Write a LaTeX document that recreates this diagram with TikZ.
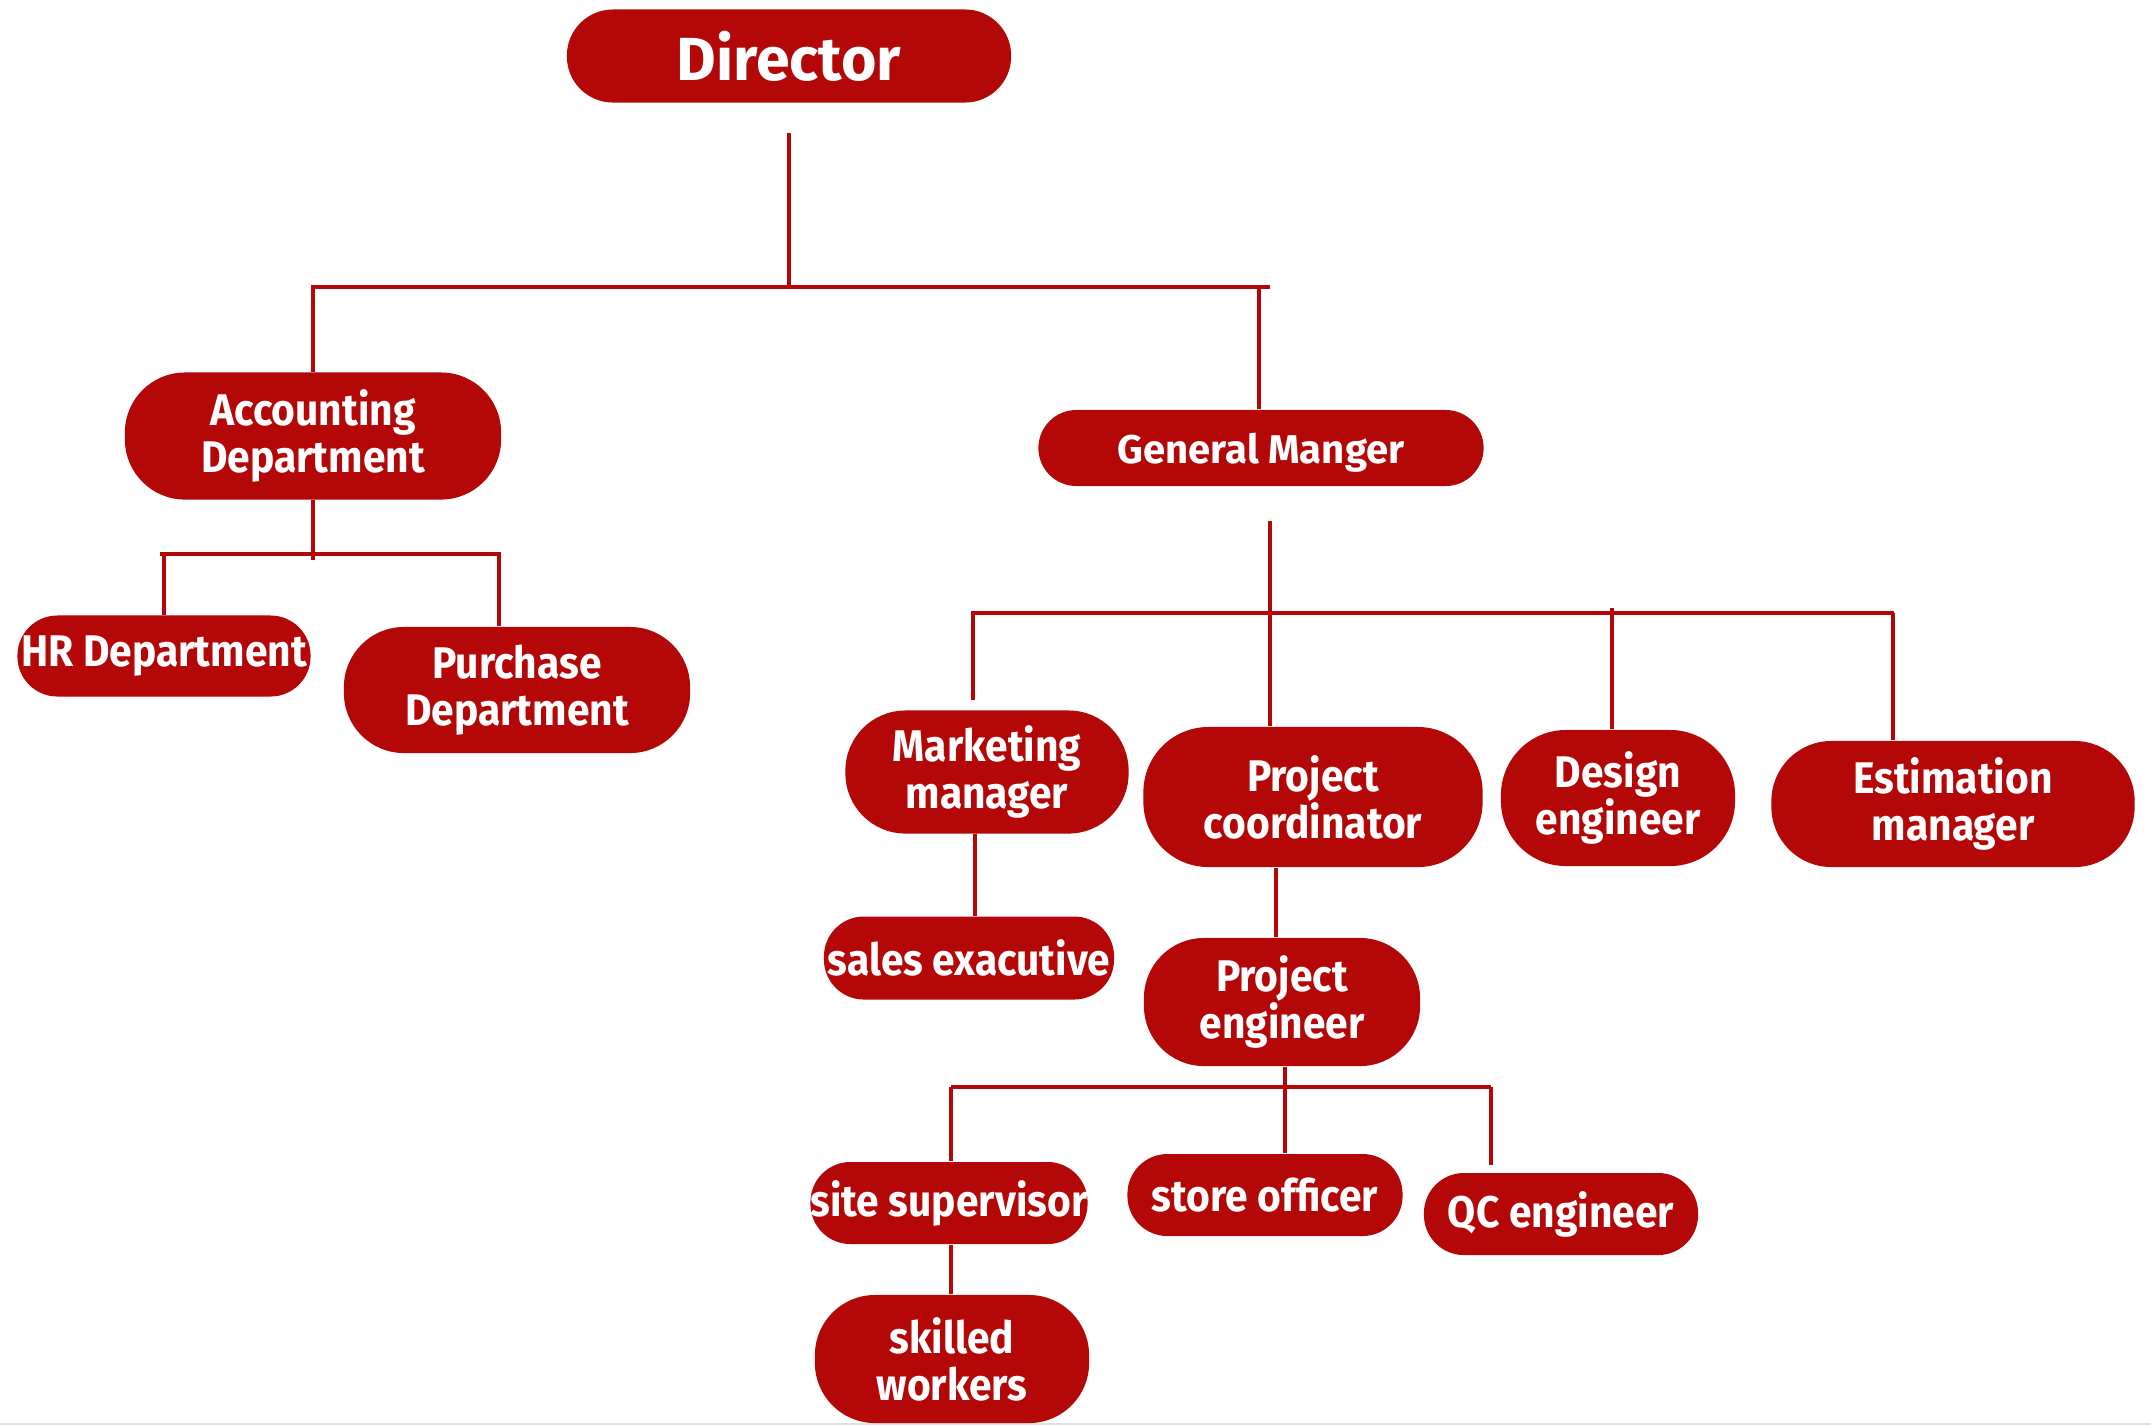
\documentclass[tikz,border=0pt]{standalone}
\usepackage{fontspec}
\setmainfont{Fira Sans}
\newfontfamily\widefont{Fira Sans Bold}
\newfontfamily\narrowfont{Fira Sans Bold}[FakeStretch=0.92]
\definecolor{orgred}{RGB}{180,7,7}
\tikzset{
    unit/.style={fill=orgred, text=white, rounded corners=0.4cm,
        align=center, inner sep=0pt, font=\narrowfont\fontsize{12.6}{13.4}\selectfont},
    tall/.style={unit, rounded corners=0.6cm},
    link/.style={draw=orgred, line width=1.2pt},
}
\begin{document}
\begin{tikzpicture}[x=0.01cm, y=-0.01cm]
    \useasboundingbox (0,0) rectangle (2151,1426);
    \draw[black!12, line width=0.8pt] (0,1424) -- (2151,1424);

    % top levels
    \node[unit, minimum width=4.44cm, minimum height=0.93cm, rounded corners=0.46cm,
        font=\widefont\fontsize{17.3}{19}\selectfont] (dir) at (789,56) {Director};
    \node[tall, minimum width=3.76cm, minimum height=1.27cm] (acc) at (313,436) {Accounting\\Department};
    \node[unit, minimum width=4.45cm, minimum height=0.76cm, rounded corners=0.38cm,
        font=\widefont\fontsize{11.4}{13}\selectfont, text depth=0pt] (gm) at (1261,448) {General Manger};

    % accounting side
    \node[unit, minimum width=2.93cm, minimum height=0.81cm] (hr) at (164,656) {HR Department};
    \node[tall, minimum width=3.46cm, minimum height=1.26cm] (pur) at (517,690) {Purchase\\Department};

    % general manager side
    \node[tall, minimum width=2.83cm, minimum height=1.23cm] (mkt) at (987,772) {Marketing\\manager};
    \node[tall, minimum width=3.39cm, minimum height=1.40cm, rounded corners=0.65cm] (pc) at (1313,797) {Project\\coordinator};
    \node[tall, minimum width=2.34cm, minimum height=1.36cm, rounded corners=0.65cm] (des) at (1618,798) {Design\\engineer};
    \node[tall, minimum width=3.63cm, minimum height=1.26cm] (est) at (1953,804) {Estimation\\manager};
    \node[unit, minimum width=2.90cm, minimum height=0.83cm] (sal) at (969,958) {sales exacutive};
    \node[tall, minimum width=2.76cm, minimum height=1.28cm] (pe) at (1282,1002) {Project\\engineer};

    % site level
    \node[unit, minimum width=2.77cm, minimum height=0.82cm] (sit) at (949,1203) {site supervisor};
    \node[unit, minimum width=2.75cm, minimum height=0.82cm] (sto) at (1265,1195) {store officer};
    \node[unit, minimum width=2.74cm, minimum height=0.82cm] (qc) at (1561,1214) {QC engineer};
    \node[tall, minimum width=2.74cm, minimum height=1.28cm] (skl) at (952,1359) {skilled\\workers};

    \coordinate (busA) at (0,287);
    \coordinate (busB) at (0,554);
    \coordinate (busC) at (0,613);
    \coordinate (busD) at (0,1087);

    % director branch
    \draw[link, shorten <=0.3cm] (dir.south) -- (dir.south |- busA);
    \draw[link] (acc.north) -- (acc.north |- busA) -- ([xshift=0.09cm]gm.north |- busA);
    \draw[link] ([xshift=-0.02cm]gm.north) -- ([xshift=-0.02cm]gm.north |- busA);

    % accounting branch
    \draw[link] (acc.south) -- ([yshift=-0.06cm]acc.south |- busB);
    \draw[link] ([xshift=-0.04cm]hr.north |- busB) -- ([xshift=-0.16cm]pur.north |- busB);
    \draw[link] (hr.north) -- (hr.north |- busB);
    \draw[link] ([xshift=-0.18cm]pur.north) -- ([xshift=-0.18cm]pur.north |- busB);

    % general manager branch
    \draw[link, shorten <=0.34cm] ([xshift=0.09cm]gm.south) -- ([xshift=0.09cm]gm.south |- busC);
    \draw[link] ([xshift=-0.16cm]mkt.north |- busC) -- ([xshift=-0.59cm]est.north |- busC);
    \draw[link, shorten <=0.1cm] ([xshift=-0.14cm]mkt.north) -- ([xshift=-0.14cm]mkt.north |- busC);
    \draw[link] ([xshift=-0.43cm]pc.north) -- ([xshift=-0.43cm]pc.north |- busC);
    \draw[link] ([xshift=-0.06cm]des.north) -- ([xshift=-0.06cm,yshift=0.05cm]des.north |- busC);
    \draw[link] ([xshift=-0.6cm]est.north) -- ([xshift=-0.6cm]est.north |- busC);
    \draw[link] ([xshift=-0.12cm]mkt.south) -- ([xshift=-0.12cm]mkt.south |- sal.north);
    \draw[link] ([xshift=-0.06cm]pe.north) -- ([xshift=-0.06cm]pe.north |- pc.south);

    % project engineer branch
    \draw[link] ([xshift=0.03cm]pe.south) -- ([xshift=0.03cm]pe.south |- sto.north);
    \draw[link] ([xshift=0.02cm]sit.north |- busD) -- ([xshift=-0.7cm]qc.north |- busD);
    \draw[link] ([xshift=0.02cm]sit.north) -- ([xshift=0.02cm]sit.north |- busD);
    \draw[link, shorten <=0.07cm] ([xshift=-0.7cm]qc.north) -- ([xshift=-0.7cm]qc.north |- busD);
    \draw[link] ([xshift=0.02cm]sit.south) -- ([xshift=0.02cm]sit.south |- skl.north);
\end{tikzpicture}
\end{document}
